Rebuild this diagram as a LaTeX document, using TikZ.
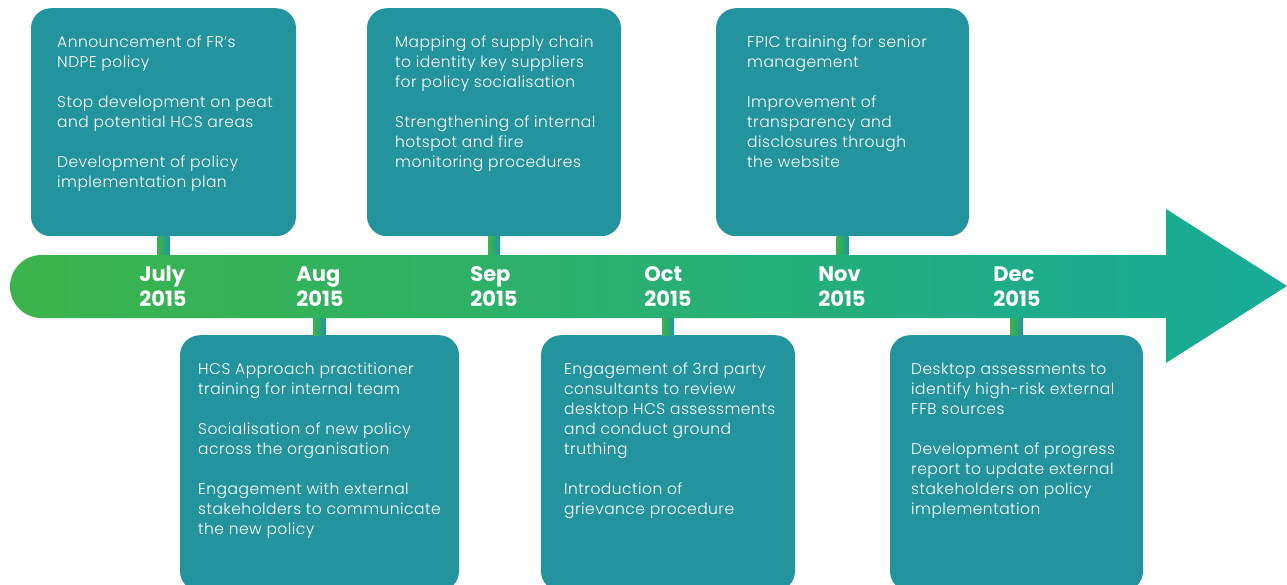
\documentclass[tikz,border=0pt]{standalone}
\usepackage{fontspec}
\setmainfont{Poppins}
\newfontfamily\lightfont[LetterSpace=3]{Poppins Light}
\definecolor{boxteal}{HTML}{23939E}
\definecolor{barL}{HTML}{3BB44A}
\definecolor{barR}{HTML}{17AB98}
\definecolor{stemL}{HTML}{3BB44A}
\definecolor{stemR}{HTML}{1E97A0}
\begin{document}
\begin{tikzpicture}[x=1pt,y=-1pt,
  box/.style={fill=boxteal, rounded corners=20pt, inner sep=0pt, draw=none, anchor=north},
  txt/.style={text=white, align=left, inner sep=0pt, anchor=base west, font=\lightfont\fontsize{15.5}{20}\selectfont},
  lab/.style={text=white, align=left, inner sep=0pt, anchor=base, font=\bfseries\fontsize{21}{24.5}\selectfont},
  stem/.style={left color=stemL, right color=stemR}]
\useasboundingbox (0,0) rectangle (1287,584);
% boxes
\node[box, minimum width=265pt, minimum height=228pt] (b1) at (163.5,8) {};
\node[box, minimum width=254pt, minimum height=228pt] (b3) at (494,8) {};
\node[box, minimum width=253pt, minimum height=228pt] (b5) at (842.5,8) {};
\node[box, minimum width=279pt, minimum height=256pt] (b2) at (319.5,335) {};
\node[box, minimum width=254pt, minimum height=256pt] (b4) at (668,335) {};
\node[box, minimum width=253pt, minimum height=256pt] (b6) at (1016.5,335) {};
% bar reference coordinates
\coordinate (bartop) at (0,258);
\coordinate (barbot) at (0,315);
% stems
\shade[stem] ([xshift=-6pt]b1.south) rectangle ([xshift=6pt]b1.south |- bartop);
\shade[stem] ([xshift=-6pt]b3.south) rectangle ([xshift=6pt]b3.south |- bartop);
\shade[stem] ([xshift=-6pt]b5.south) rectangle ([xshift=6pt]b5.south |- bartop);
\shade[stem] ([xshift=-6pt]b2.north) rectangle ([xshift=6pt]b2.north |- barbot);
\shade[stem] ([xshift=-6pt]b4.north) rectangle ([xshift=6pt]b4.north |- barbot);
\shade[stem] ([xshift=-6pt]b6.north) rectangle ([xshift=6pt]b6.north |- barbot);
% timeline arrow
\shade[left color=barL, right color=barR] (1166,255) -- (41.5,255)
  arc[start angle=270, end angle=90, radius=31.5] -- (1166,318) -- (1166,363)
  -- (1287,286) -- (1166,209) -- cycle;
% month labels (anchor = baseline of last line)
\node[lab] (l1) at (163,306) {July\\2015};
\node[lab] (l2) at (320,306) {Aug\\2015};
\node[lab] (l3) at (494,306) {Sep\\2015};
\node[lab] (l4) at (668,306) {Oct\\2015};
\node[lab] (l5) at (842,306) {Nov\\2015};
\node[lab] (l6) at (1017,306) {Dec\\2015};
% texts (anchor = baseline of last line)
\node[txt] (t1) at (57,187.5) {Announcement of FR’s\\NDPE policy\\[20pt]Stop development on peat\\and potential HCS areas\\[20pt]Development of policy\\implementation plan};
\node[txt] (t3) at (395,167.5) {Mapping of supply chain\\to identity key suppliers\\for policy socialisation\\[20pt]Strengthening of internal\\hotspot and fire\\monitoring procedures};
\node[txt] (t5) at (747,167.5) {FPIC training for senior\\management\\[20pt]Improvement of\\transparency and\\disclosures through\\the website};
\node[txt] (t2) at (198,534) {HCS Approach practitioner\\training for internal team\\[20pt]Socialisation of new policy\\across the organisation\\[20pt]Engagement with external\\stakeholders to communicate\\the new policy};
\node[txt] (t4) at (564,514) {Engagement of 3rd party\\consultants to review\\desktop HCS assessments\\and conduct ground\\truthing\\[20pt]Introduction of\\grievance procedure};
\node[txt] (t6) at (911,514) {Desktop assessments to\\identify high-risk external\\FFB sources\\[20pt]Development of progress\\report to update external\\stakeholders on policy\\implementation};
\end{tikzpicture}
\end{document}
